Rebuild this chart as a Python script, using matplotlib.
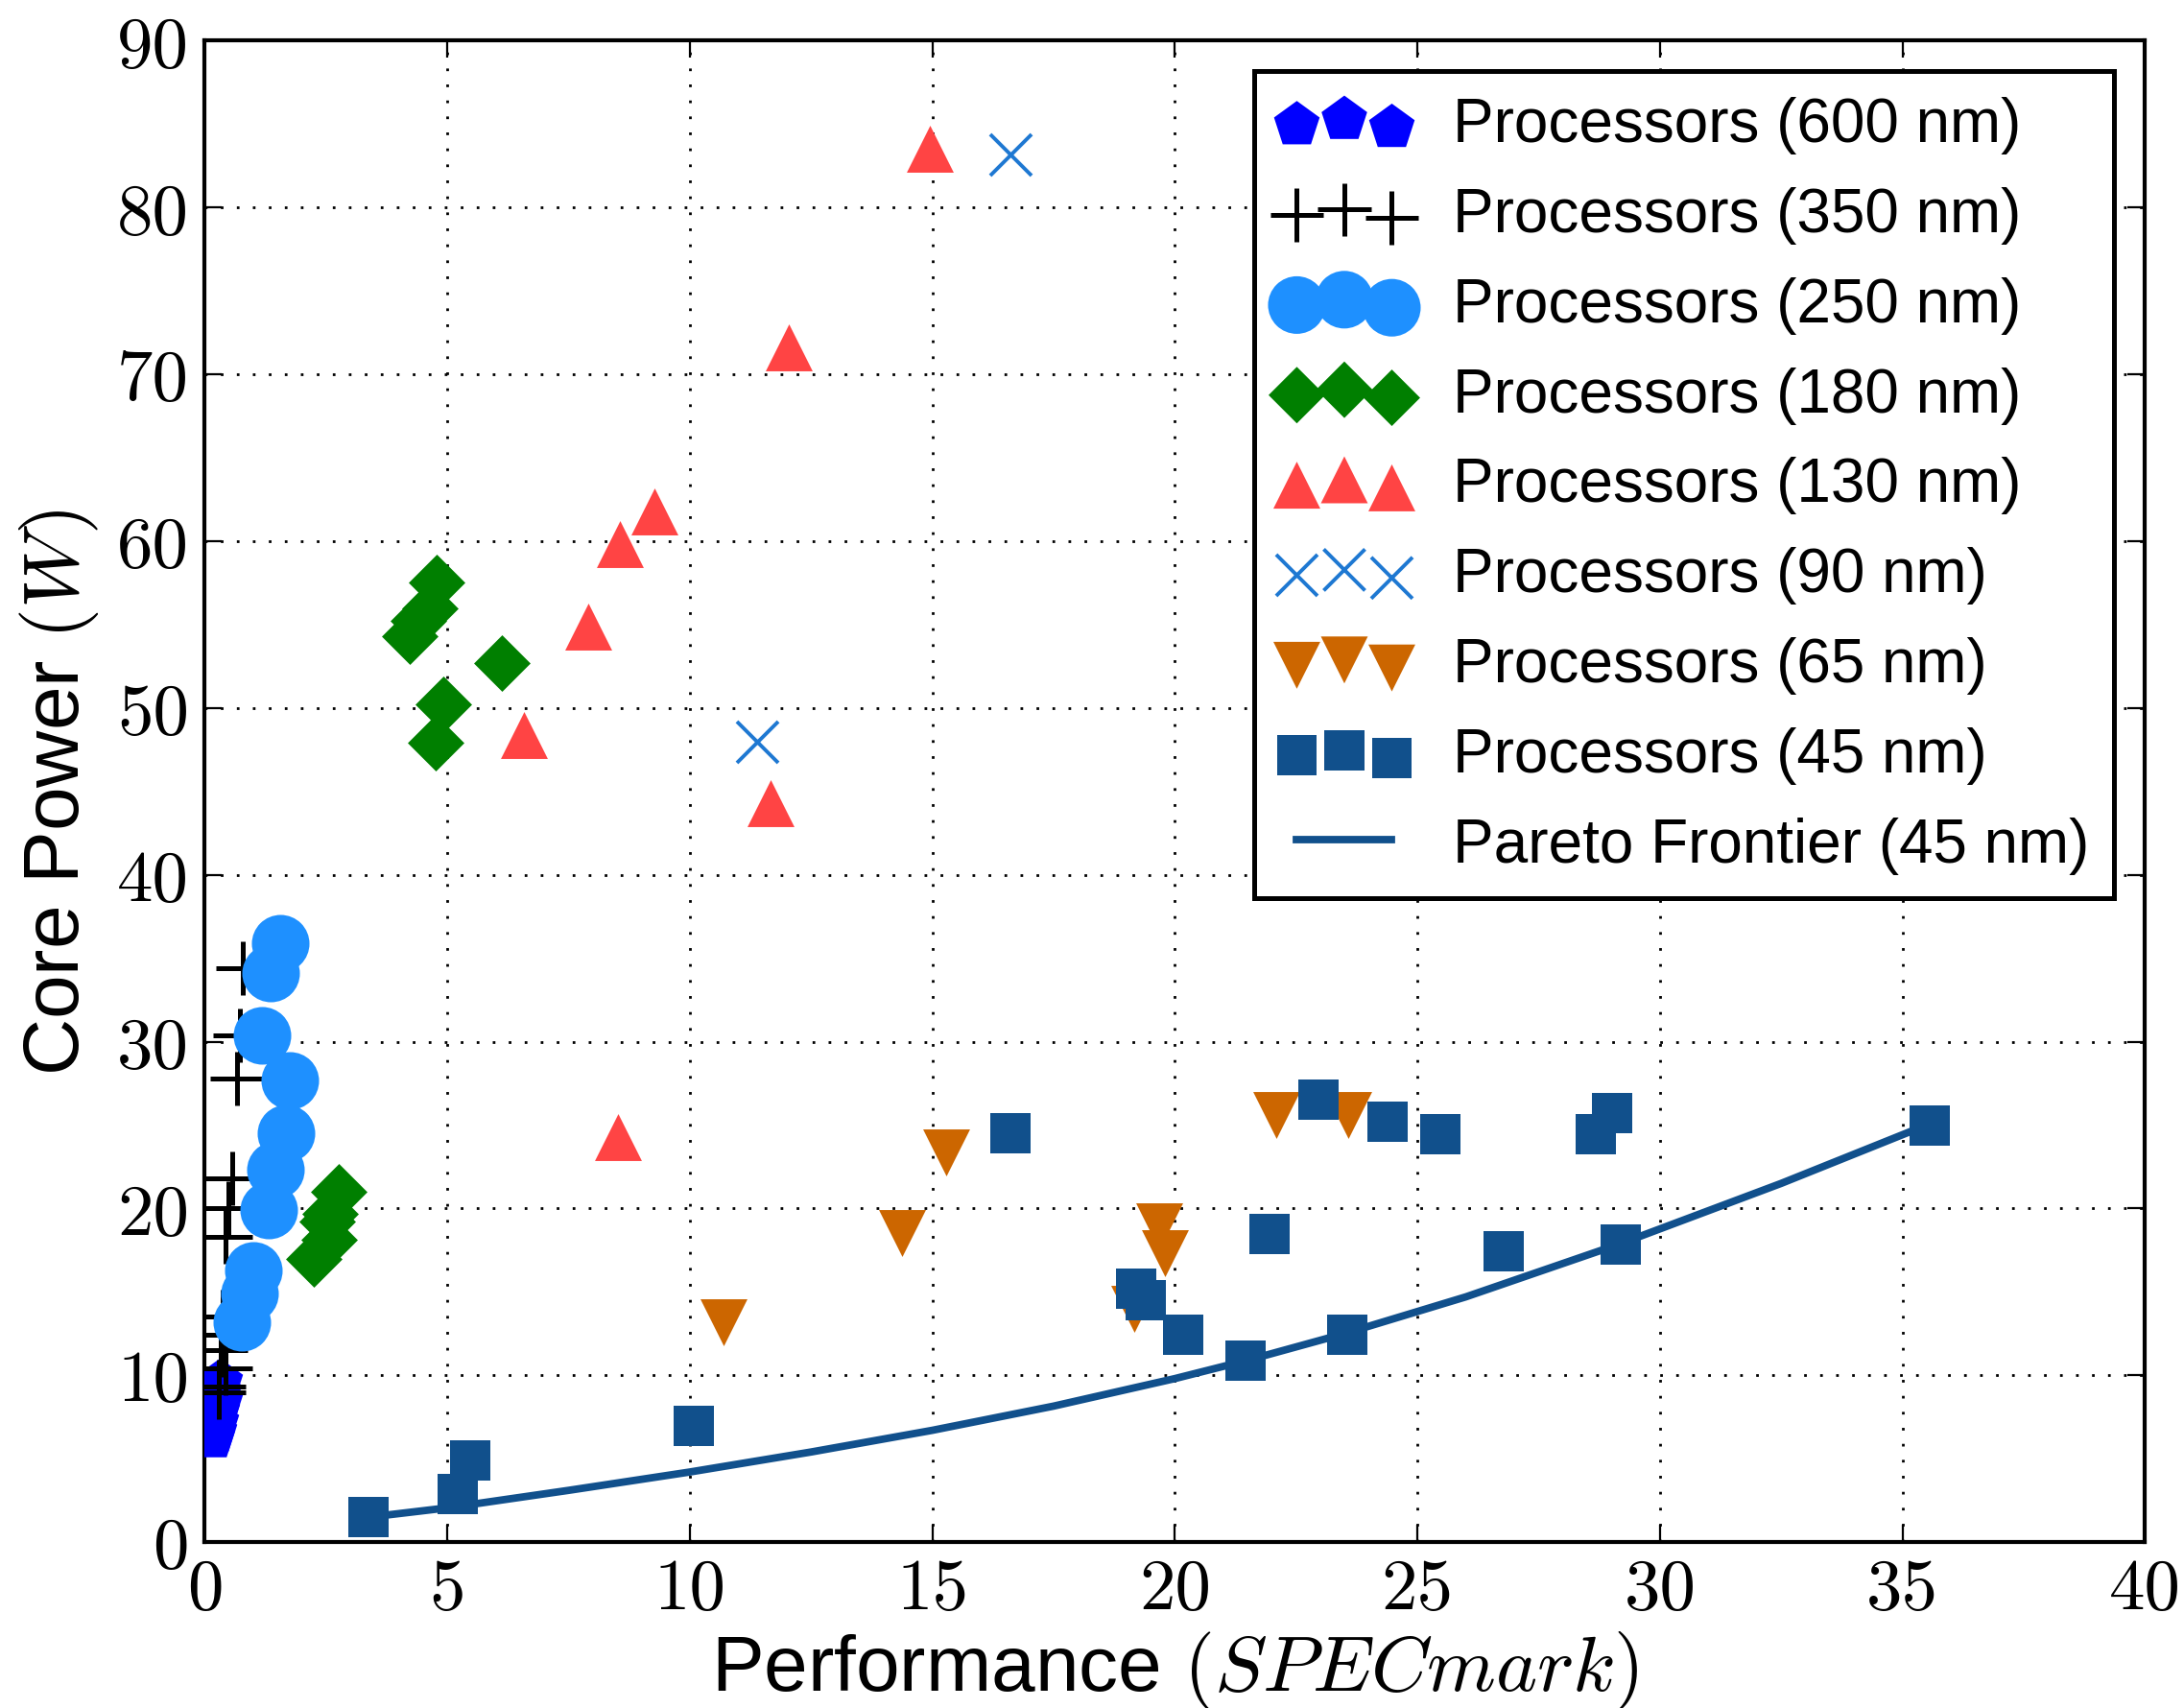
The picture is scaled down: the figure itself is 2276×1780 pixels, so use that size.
import matplotlib
matplotlib.use("Agg")
import matplotlib.pyplot as plt

# ---------------- data ----------------
p600_x = [0.30, 0.28, 0.30, 0.25, 0.22, 0.18, 0.15]
p600_y = [9.6, 9.0, 8.4, 7.8, 7.2, 6.6, 6.3]

p350_x = [0.79, 0.72, 0.66, 0.56, 0.49, 0.42, 0.36, 0.33, 0.33, 0.42, 0.29, 0.29]
p350_y = [34.4, 30.4, 27.8, 21.8, 20.0, 18.3, 13.5, 12.4, 11.5, 10.4, 9.3, 9.0]

p250_x = [1.55, 1.35, 1.17, 1.75, 1.68, 1.46, 1.31, 0.99, 0.92, 0.76]
p250_y = [35.9, 34.1, 30.4, 27.7, 24.5, 22.3, 19.9, 16.3, 14.9, 13.2]

p180_x = [4.77, 4.63, 4.40, 4.22, 6.13, 4.92, 4.76, 2.76, 2.59, 2.52, 2.57, 2.24]
p180_y = [57.5, 56.0, 55.2, 54.3, 52.7, 50.2, 47.9, 21.0, 19.7, 19.2, 18.1, 17.0]

p130_x = [14.95, 12.03, 9.27, 8.56, 7.90, 6.57, 11.67, 8.52]
p130_y = [83.5, 71.6, 61.8, 59.8, 54.9, 48.4, 44.3, 24.3]

p90_x = [16.61, 11.39]
p90_y = [83.2, 47.95]

p65_x = [22.08, 23.58, 19.68, 19.79, 19.17, 10.70, 14.38, 15.29]
p65_y = [25.6, 25.6, 18.9, 17.3, 14.0, 13.2, 18.55, 23.35]

p45_x = [3.38, 5.22, 5.48, 10.09, 16.60, 19.20, 19.40, 20.18, 21.46, 21.96,
         22.96, 23.55, 24.38, 25.48, 26.78, 28.67, 29.02, 29.19, 35.56]
p45_y = [1.5, 2.87, 4.88, 6.95, 24.5, 15.2, 14.5, 12.45, 10.9, 18.46,
         26.5, 12.45, 25.2, 24.45, 17.45, 24.45, 25.7, 17.86, 24.97]

pareto_x = [3.4, 5.0, 7.5, 10.0, 12.5, 15.0, 17.5, 20.0, 21.5, 23.5, 26.0, 29.2, 32.5, 35.5]
pareto_y = [1.5, 2.05, 3.1, 4.2, 5.4, 6.7, 8.15, 9.8, 10.9, 12.5, 14.7, 17.9, 21.5, 25.0]

labels = ["Processors (600 nm)", "Processors (350 nm)", "Processors (250 nm)",
          "Processors (180 nm)", "Processors (130 nm)", "Processors (90 nm)",
          "Processors (65 nm)", "Processors (45 nm)", "Pareto Frontier (45 nm)"]

xticks = [0, 5, 10, 15, 20, 25, 30, 35, 40]
yticks = [0, 10, 20, 30, 40, 50, 60, 70, 80, 90]

# ---------------- style ----------------
plt.rcParams["mathtext.fontset"] = "cm"
plt.rcParams["font.family"] = ["Liberation Sans", "DejaVu Sans"]

DPI = 200
fig = plt.figure(figsize=(2276 / DPI, 1781 / DPI), dpi=DPI)
ax = fig.add_axes([0.0938, 0.0971, 0.9821 - 0.0938, 0.9756 - 0.0971])

c45 = "#11508C"
ax.scatter(p600_x, p600_y, marker="p", s=324, color="#0000FF", linewidths=0, label=labels[0], zorder=3)
ax.scatter(p350_x, p350_y, marker="+", s=400, color="black", linewidths=1.8, label=labels[1], zorder=3)
ax.scatter(p250_x, p250_y, marker="o", s=467, color="#1E90FF", linewidths=0, label=labels[2], zorder=3)
ax.scatter(p180_x, p180_y, marker="D", s=225, color="#007F00", linewidths=0, label=labels[3], zorder=3)
ax.scatter(p130_x, p130_y, marker="^", s=310, color="#FF4444", linewidths=0, label=labels[4], zorder=3)
ax.scatter(p90_x, p90_y, marker="x", s=240, color="#1E78D2", linewidths=1.4, label=labels[5], zorder=3)
ax.scatter(p65_x, p65_y, marker="v", s=310, color="#CC6600", linewidths=0, label=labels[6], zorder=3)
ax.scatter(p45_x, p45_y, marker="s", s=227, color=c45, linewidths=0, label=labels[7], zorder=3)
ax.plot(pareto_x, pareto_y, color=c45, linewidth=2.8, label=labels[8], zorder=4)

ax.set_xlim(0, 40)
ax.set_ylim(0, 90)
ax.set_xticks(xticks)
ax.set_yticks(yticks)
ax.set_xticklabels([str(t) for t in xticks])
ax.set_yticklabels([str(t) for t in yticks])
for lab in ax.get_xticklabels() + ax.get_yticklabels():
    lab.set_fontfamily("cmr10")
    lab.set_fontsize(27)

ax.tick_params(direction="in", length=6.5, width=0.8, top=True, right=True, pad=6)
ax.grid(True, color="black", linestyle=(0, (1, 5)), linewidth=1.0)
ax.set_axisbelow(True)
for sp in ax.spines.values():
    sp.set_linewidth(1.5)

ax.set_xlabel("Performance $(SPECmark)$", fontsize=29.5, labelpad=2)
ax.set_ylabel("Core Power $(W)$", fontsize=29.5, labelpad=6)

leg = ax.legend(loc="upper right", fontsize=23, fancybox=False, framealpha=1,
                edgecolor="black", numpoints=2, scatterpoints=3, labelspacing=0.53,
                handlelength=2.15, handletextpad=0.7)
leg.get_frame().set_linewidth(1.8)

fig.savefig("out.png", dpi=DPI)
